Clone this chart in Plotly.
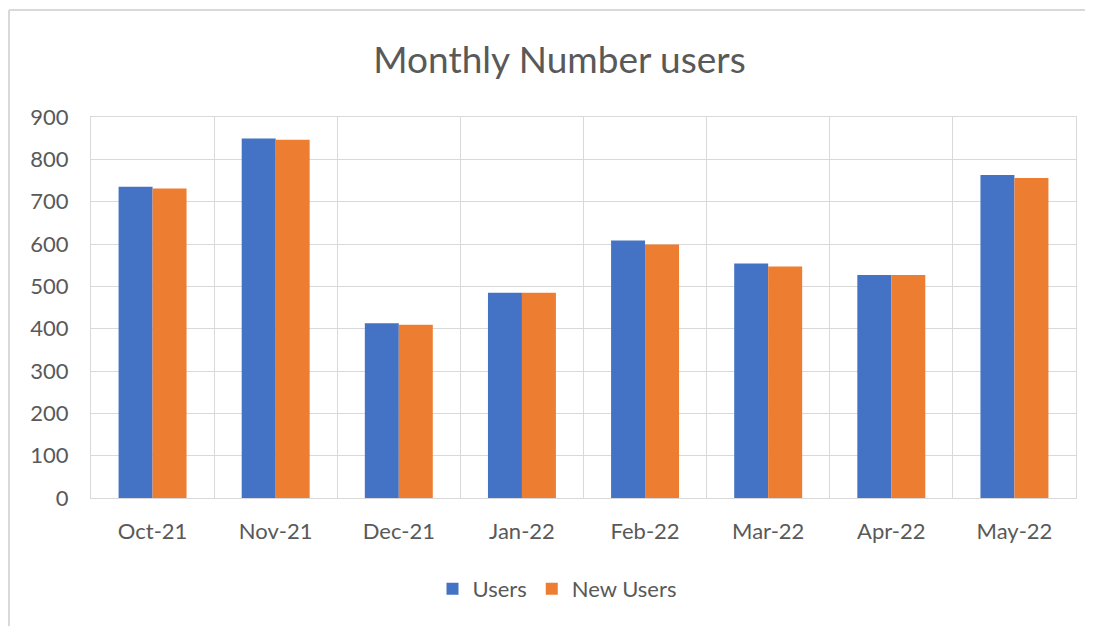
import plotly.graph_objects as go

months = ["Oct-21", "Nov-21", "Dec-21", "Jan-22", "Feb-22", "Mar-22", "Apr-22", "May-22"]
users = [735, 849, 413, 485, 608, 554, 527, 763]
new_users = [731, 846, 409, 485, 599, 547, 527, 756]
y_ticks = [0, 100, 200, 300, 400, 500, 600, 700, 800, 900]

# page has an 8px body margin: work in page pixels, convert to figure pixels
OFF = 8
W, H = 1093 - OFF, 626 - OFF
L, R, T, B = 91 - OFF, 1076 - OFF, 117 - OFF, 498 - OFF

def px_x(px):
    return (px - OFF - L) / (R - L)

def px_y(py):
    return (B - (py - OFF)) / (B - T)

FONT = "Lato"
TXT = "#595959"
GRID = "#d9d9d9"

fig = go.Figure()
fig.add_trace(go.Bar(x=months, y=users, name="Users", marker=dict(color="#4472C4", line=dict(width=0))))
fig.add_trace(go.Bar(x=months, y=new_users, name="New Users", marker=dict(color="#ED7D31", line=dict(width=0))))

fig.update_layout(
    width=W, height=H,
    margin=dict(l=L, r=W - R, t=T, b=H - B),
    paper_bgcolor="white", plot_bgcolor="white",
    barmode="group", bargap=0.448, bargroupgap=0,
    font=dict(family=FONT, color=TXT, size=22),
    title=dict(text="Monthly Number users", font=dict(family=FONT, size=37, color=TXT),
               x=(559.5 - OFF) / W, xanchor="center", xref="container",
               y=1 - (60 - OFF) / H, yanchor="middle", yref="container"),
    legend=dict(orientation="h", x=px_x(557), xanchor="center", y=px_y(589), yanchor="middle",
                font=dict(size=22, color=TXT), itemwidth=30, traceorder="normal"),
    xaxis=dict(type="category", showgrid=True, gridcolor=GRID, gridwidth=1, tickson="boundaries",
               showline=True, linecolor=GRID, linewidth=1, mirror=True, ticks="",
               tickfont=dict(size=22, color=TXT), ticklabelstandoff=14),
    yaxis=dict(range=[0, 900], tickvals=y_ticks, showgrid=True, gridcolor=GRID, gridwidth=1,
               showline=True, linecolor=GRID, linewidth=1, mirror=True, ticks="", zeroline=False,
               tickfont=dict(size=22, color=TXT), ticklabelstandoff=17),
    shapes=[
        dict(type="line", xref="paper", yref="paper", x0=px_x(9), x1=px_x(1100), y0=px_y(10), y1=px_y(10),
             line=dict(color=GRID, width=2)),
        dict(type="line", xref="paper", yref="paper", x0=px_x(9), x1=px_x(9), y0=px_y(10), y1=px_y(640),
             line=dict(color=GRID, width=2)),
    ],
)

fig.write_html("out.html")
